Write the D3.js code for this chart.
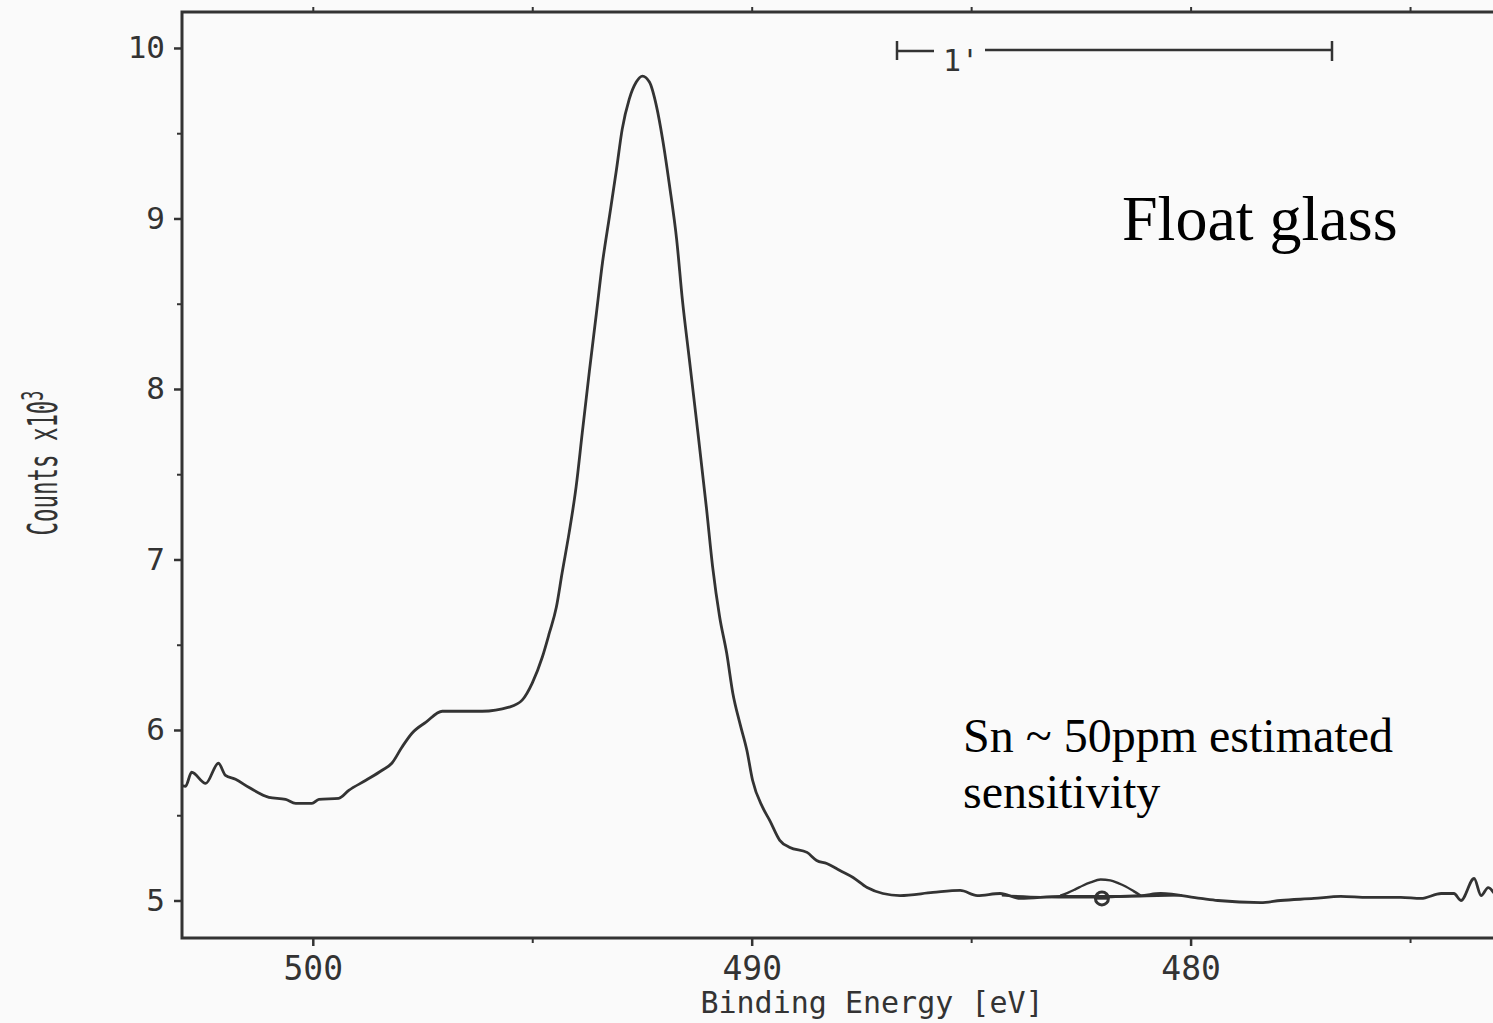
<!DOCTYPE html>
<html>
<head>
<meta charset="utf-8">
<script src="https://cdn.jsdelivr.net/npm/d3@7"></script>
<style>
  html, body { margin: 0; padding: 0; background: #fafafa; }
  svg { display: block; }
</style>
</head>
<body>
<svg id="chart" width="1493" height="1023"></svg>
<script>
// ---- data ----
const energy = [503.04, 502.90, 502.76, 502.44, 502.15, 501.99, 501.76, 501.46, 501.00, 500.62, 500.39, 500.02,
  499.86, 499.41, 499.18, 498.79, 498.42, 498.20, 497.97, 497.74, 497.42, 497.05, 496.14, 495.53, 495.23, 495.00,
  494.77, 494.61, 494.45, 494.32, 494.16, 494.00, 493.86, 493.70, 493.54, 493.40, 493.24, 493.08, 492.95, 492.79,
  492.63, 492.49, 492.33, 492.17, 492.03, 491.87, 491.71, 491.58, 491.42, 491.26, 491.03, 490.89, 490.73,
  490.57, 490.43, 490.27, 490.11, 489.98, 489.75, 489.59, 489.36, 489.13, 488.74, 488.52, 488.29, 487.99, 487.69,
  487.37, 487.01, 486.62, 485.87, 485.25, 484.86, 484.34, 483.88, 482.97, 482.05, 481.14, 480.68, 479.77, 479.38,
  478.40, 477.95, 477.19, 476.58, 475.96, 475.21, 474.75, 474.29, 474.00, 473.84, 473.54, 473.38, 473.22, 473.08];
const counts = [5.682, 5.670, 5.752, 5.687, 5.805, 5.734, 5.711, 5.664, 5.605, 5.593, 5.570, 5.570,
  5.593, 5.599, 5.646, 5.705, 5.764, 5.805, 5.899, 5.981, 6.046, 6.110, 6.110, 6.134, 6.175, 6.275,
  6.428, 6.569, 6.721, 6.921, 7.156, 7.427, 7.744, 8.100, 8.440, 8.740, 9.013, 9.289, 9.524, 9.700,
  9.800, 9.835, 9.800, 9.659, 9.465, 9.189, 8.878, 8.525, 8.173, 7.820, 7.300, 6.957, 6.663,
  6.451, 6.216, 6.040, 5.881, 5.705, 5.546, 5.470, 5.353, 5.311, 5.282, 5.235, 5.217, 5.176, 5.135,
  5.076, 5.041, 5.029, 5.047, 5.059, 5.029, 5.041, 5.012, 5.024, 5.024, 5.029, 5.041, 5.012, 5.000,
  4.988, 5.000, 5.012, 5.024, 5.018, 5.018, 5.012, 5.041, 5.041, 5.000, 5.129, 5.029, 5.076, 5.041];

// fitted Sn 3d peak overlay and its background
const snEnergy = [482.97, 482.80, 482.63, 482.45, 482.28, 482.05, 481.83, 481.65, 481.48, 481.30, 481.14];
const snCounts = [5.029, 5.045, 5.065, 5.088, 5.106, 5.123, 5.118, 5.102, 5.082, 5.055, 5.029];
const bgEnergy = [484.30, 483.40, 482.60, 481.80, 481.00, 480.20];
const bgCounts = [5.030, 5.020, 5.018, 5.020, 5.026, 5.030];
const snMarker = [482.02, 5.012];

const xTicks = [500, 490, 480];
const xTickLabels = ["500", "490", "480"];
const xMinorTicks = [495, 485, 475];
const yTicks = [5, 6, 7, 8, 9, 10];
const yTickLabels = ["5", "6", "7", "8", "9", "10"];
const yMinorTicks = [5.5, 6.5, 7.5, 8.5, 9.5];

const xTitle = "Binding Energy [eV]";
const yTitle = "Counts x10";
const yTitleSup = "3";
const annTitle = "Float glass";
const annLines = ["Sn ~ 50ppm estimated", "sensitivity"];
const scaleBarLabel = "1'";

// ---- layout ----
const svg = d3.select("#chart");
const ink = "#333333";
const plotL = 182, plotR = 1493, plotT = 12, plotB = 938;
const x = d3.scaleLinear().domain([502.98, 473.11]).range([plotL, plotR]);
const y = d3.scaleLinear().domain([4.78, 10.211]).range([plotB, plotT]);

svg.append("rect").attr("width", 1493).attr("height", 1023).attr("fill", "#fafafa");

svg.append("clipPath").attr("id", "clip")
  .append("rect").attr("x", plotL).attr("y", plotT).attr("width", plotR - plotL).attr("height", plotB - plotT);

const plotFont = "'DejaVu Sans Mono', monospace";

// ---- axes ----
const xAxis = svg.append("g").attr("transform", `translate(0,${plotB})`)
  .call(d3.axisBottom(x).tickValues(xTicks).tickSize(8).tickPadding(11)
    .tickFormat((d, i) => xTickLabels[i]));
xAxis.select(".domain").remove();
xAxis.selectAll("line").attr("stroke", ink).attr("stroke-width", 2.5);
xAxis.selectAll("text").attr("font-family", plotFont).attr("font-size", 33).attr("fill", ink);
svg.append("g").attr("transform", `translate(0,${plotB})`)
  .call(d3.axisBottom(x).tickValues(xMinorTicks).tickSize(5).tickFormat(""))
  .call(g => g.select(".domain").remove())
  .selectAll("line").attr("stroke", ink).attr("stroke-width", 2);

svg.append("g").attr("transform", `translate(0,${plotT})`)
  .call(d3.axisTop(x).tickValues(xTicks.concat(xMinorTicks)).tickSize(5).tickFormat(""))
  .call(g => g.select(".domain").remove())
  .selectAll("line").attr("stroke", ink).attr("stroke-width", 2);

const yAxis = svg.append("g").attr("transform", `translate(${plotL},0)`)
  .call(d3.axisLeft(y).tickValues(yTicks).tickSize(8).tickPadding(9)
    .tickFormat((d, i) => yTickLabels[i]));
yAxis.select(".domain").remove();
yAxis.selectAll("line").attr("stroke", ink).attr("stroke-width", 2.5);
yAxis.selectAll("text").attr("font-family", plotFont).attr("font-size", 31).attr("fill", ink);
svg.append("g").attr("transform", `translate(${plotL},0)`)
  .call(d3.axisLeft(y).tickValues(yMinorTicks).tickSize(5).tickFormat(""))
  .call(g => g.select(".domain").remove())
  .selectAll("line").attr("stroke", ink).attr("stroke-width", 2);

svg.append("path")
  .attr("d", `M${plotR},${plotT}H${plotL}V${plotB}H${plotR}`)
  .attr("fill", "none").attr("stroke", ink).attr("stroke-width", 3);

// ---- axis titles ----
svg.append("text").attr("x", 872).attr("y", 1013)
  .attr("text-anchor", "middle").attr("font-family", plotFont).attr("font-size", 30).attr("fill", ink)
  .text(xTitle);

const yt = svg.append("g").attr("transform", "translate(57,463) rotate(-90) scale(0.56,1)")
  .append("text").attr("text-anchor", "middle").attr("font-family", plotFont).attr("font-size", 40).attr("fill", ink);
yt.append("tspan").text(yTitle);
yt.append("tspan").attr("dy", -14).attr("font-size", 30).text(yTitleSup);

// ---- data lines ----
const line = d3.line().x(d => x(d[0])).y(d => y(d[1])).curve(d3.curveMonotoneX);
const mainData = energy.map((e, i) => [e, counts[i]]);
const snData = snEnergy.map((e, i) => [e, snCounts[i]]);
const bgData = bgEnergy.map((e, i) => [e, bgCounts[i]]);

const plot = svg.append("g").attr("clip-path", "url(#clip)");
plot.append("path").datum(bgData).attr("d", line)
  .attr("fill", "none").attr("stroke", ink).attr("stroke-width", 2.2);
plot.append("path").datum(mainData).attr("d", line)
  .attr("fill", "none").attr("stroke", ink).attr("stroke-width", 2.8).attr("stroke-linejoin", "round");
plot.append("path").datum(snData).attr("d", line)
  .attr("fill", "none").attr("stroke", ink).attr("stroke-width", 2.4).attr("stroke-linejoin", "round");
plot.append("circle").attr("cx", x(snMarker[0])).attr("cy", y(snMarker[1])).attr("r", 6.5)
  .attr("fill", "none").attr("stroke", ink).attr("stroke-width", 3);
plot.append("line").attr("x1", x(snMarker[0]) - 6).attr("x2", x(snMarker[0]) + 6)
  .attr("y1", y(snMarker[1])).attr("y2", y(snMarker[1])).attr("stroke", ink).attr("stroke-width", 2.5);

// ---- scale bar "1'" ----
const sb = svg.append("g").attr("stroke", ink).attr("stroke-width", 2.5);
sb.append("line").attr("x1", 897).attr("x2", 897).attr("y1", 41).attr("y2", 60);
sb.append("line").attr("x1", 897).attr("x2", 934).attr("y1", 51).attr("y2", 51);
sb.append("line").attr("x1", 985).attr("x2", 1332).attr("y1", 50).attr("y2", 50);
sb.append("line").attr("x1", 1332).attr("x2", 1332).attr("y1", 41).attr("y2", 61);
svg.append("text").attr("x", 943).attr("y", 71).attr("font-family", plotFont).attr("font-size", 30).attr("fill", ink)
  .text(scaleBarLabel);

// ---- annotations ----
const serif = "'Liberation Serif', 'Times New Roman', serif";
svg.append("text").attr("x", 1122).attr("y", 240).attr("font-family", serif).attr("font-size", 64).attr("fill", "#000")
  .text(annTitle);
svg.append("text").attr("font-family", serif).attr("font-size", 48).attr("fill", "#000")
  .selectAll("tspan").data(annLines).join("tspan")
  .attr("x", 963).attr("y", (d, i) => 752 + i * 56).text(d => d);
</script>
</body>
</html>
